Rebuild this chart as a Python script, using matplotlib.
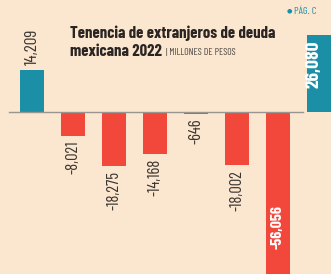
import matplotlib.pyplot as plt
from matplotlib import font_manager

# datos (millones de pesos)
values = [14209, -8021, -18275, -14168, -646, -18002, -56056, 26080]
labels = ["14,209", "-8,021", "-18,275", "-14,168", "-646", "-18,002", "-56,056", "26,080"]
colors = ["#1b8fa6", "#f2473b", "#f2473b", "#f2473b", "#f2473b", "#f2473b", "#f2473b", "#1b8fa6"]

names = {f.name for f in font_manager.fontManager.ttflist}


def pick(*cands):
    for c in cands:
        if c in names:
            return c
    return "DejaVu Sans"


cond = pick("Barlow Condensed", "Roboto Condensed", "Oswald", "Open Sans")
title_font = pick("Barlow Condensed", "Roboto Condensed", "Oswald", "DejaVu Sans")

bg = "#fbe6cf"
fig = plt.figure(figsize=(3.31, 2.74), dpi=100, facecolor=bg)
ax = fig.add_axes([0, 0, 1, 1], facecolor=bg)

px = 338.0  # unidades por pixel
ax.set_xlim(-32 / 41, (331 - 32) / 41)
ax.set_ylim(-162 * px, 112 * px)
ax.axis("off")

x = range(len(values))
ax.bar(x, values, width=0.59, color=colors, zorder=2)
ax.plot([-0.55, 6.6], [0, 0], color="#9a9590", lw=1, zorder=3)

for i, (v, t) in enumerate(zip(values, labels)):
    if i == 0:
        ax.text(i, v + 5 * px, t, rotation=90, ha="center", va="bottom",
                fontsize=12.5, family=cond, color="#3a3530")
    elif i == len(values) - 1:
        ax.text(i - 0.12, v - 6 * px, t, rotation=90, ha="center", va="top",
                fontsize=14, family=cond, weight="bold", color="white")
    elif v < -50000:
        ax.text(i, -93 * px, t, rotation=90, ha="center", va="top",
                fontsize=11.5, family=cond, weight="bold", color="white")
    else:
        ax.text(i, v - 5 * px, t, rotation=90, ha="center", va="top",
                fontsize=12, family=cond, color="#3a3530")

fig.text(70 / 331, 1 - 33 / 274, "Tenencia de extranjeros de deuda",
         fontsize=12, family=title_font, weight="bold", color="#2a2522", va="center")
fig.text(70 / 331, 1 - 52 / 274, "mexicana 2022",
         fontsize=12, family=title_font, weight="bold", color="#2a2522", va="center")
fig.text(166 / 331, 1 - 52 / 274, "| MILLONES DE PESOS",
         fontsize=7, family=cond, color="#4a4540", va="center")
fig.text(287 / 331, 1 - 11 / 274, "\u25cf",
         fontsize=4.5, family=["DejaVu Sans"], color="#1b8fa6", va="center")
fig.text(294 / 331, 1 - 11 / 274, "PÁG. C",
         fontsize=7.5, family=cond, color="#1b8fa6", va="center")

fig.savefig("out.png", dpi=100, facecolor=bg)
